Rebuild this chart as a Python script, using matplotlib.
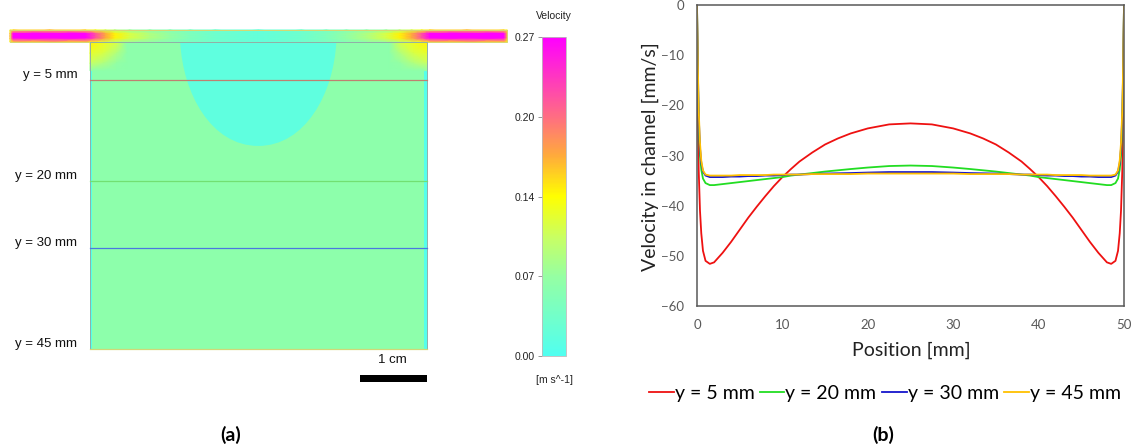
import numpy as np
import matplotlib
matplotlib.use("Agg")
import matplotlib.pyplot as plt
from matplotlib.colors import LinearSegmentedColormap, Normalize
from matplotlib.patches import Rectangle, PathPatch
from matplotlib.path import Path
import matplotlib.cm as cm

# ---------------- data : panel (b) ----------------
position = [0, 0.1, 0.2, 0.35, 0.5, 0.7, 1.0, 1.5, 2, 3, 4, 5, 6, 7, 8, 9, 10, 11, 12,
            13.5, 15, 16.5, 18, 20, 22.5, 25, 27.5, 30, 32, 33.5, 35, 36.5, 38, 39, 40, 41, 42,
            43, 44, 45, 46, 47, 48, 48.5, 49, 49.3, 49.5, 49.65, 49.8, 49.9, 50]
vel_y5 = [0, -22, -33, -41, -45.5, -49, -51, -51.6, -51.3, -49.4, -47.2, -44.8, -42.4,
          -40.2, -38.1, -36.1, -34.3, -32.7, -31.2, -29.4, -27.8, -26.6, -25.6, -24.6, -23.8,
          -23.6, -23.8, -24.6, -25.6, -26.6, -27.8, -29.4, -31.2, -32.7, -34.3, -36.1, -38.1,
          -40.2, -42.4, -44.8, -47.2, -49.4, -51.3, -51.6, -51, -49, -45.5, -41, -33, -22, 0]
vel_y20 = [0, -14, -24, -30, -32.8, -34.6, -35.5, -35.9, -35.9, -35.7, -35.5, -35.3, -35.1,
           -34.9, -34.7, -34.5, -34.3, -34.0, -33.8, -33.5, -33.2, -32.95, -32.7, -32.4, -32.1,
           -32.0, -32.1, -32.4, -32.7, -32.95, -33.2, -33.5, -33.8, -34.0, -34.3, -34.5, -34.7,
           -34.9, -35.1, -35.3, -35.5, -35.7, -35.9, -35.9, -35.5, -34.6, -32.8, -30, -24, -14, 0]
vel_y30 = [0, -13, -22, -28.5, -31.5, -33.2, -34.0, -34.3, -34.3, -34.3, -34.2, -34.2, -34.1,
           -34.1, -34.0, -34.0, -33.9, -33.8, -33.8, -33.7, -33.6, -33.55, -33.5, -33.4, -33.3,
           -33.3, -33.3, -33.4, -33.5, -33.55, -33.6, -33.7, -33.8, -33.8, -33.9, -34.0, -34.0,
           -34.1, -34.1, -34.2, -34.2, -34.3, -34.3, -34.3, -34.0, -33.2, -31.5, -28.5, -22, -13, 0]
vel_y45 = [0, -12, -21, -27.5, -31, -33, -33.8, -34.0, -34.0, -34.0, -34.0, -33.9, -33.9,
           -33.9, -33.9, -33.8, -33.8, -33.8, -33.8, -33.7, -33.7, -33.7, -33.7, -33.6, -33.6,
           -33.6, -33.6, -33.6, -33.7, -33.7, -33.7, -33.7, -33.8, -33.8, -33.8, -33.8, -33.9,
           -33.9, -33.9, -33.9, -34.0, -34.0, -34.0, -34.0, -33.8, -33.0, -31, -27.5, -21, -12, 0]
series_labels = ["y = 5 mm", "y = 20 mm", "y = 30 mm", "y = 45 mm"]
series_colors = ["#EE1111", "#22DD22", "#1515CC", "#FFC000"]
x_ticks = [0, 10, 20, 30, 40, 50]
y_ticks = [0, -10, -20, -30, -40, -50, -60]

# ---------------- data : panel (a) ----------------
cbar_levels = [0.0, 0.0675, 0.10, 0.135, 0.17, 0.2025, 0.27]
cbar_colors = ["#50FFF0", "#96FFA2", "#C8FF64", "#FFFF00", "#FFAA3C", "#FF6E82", "#FF00FF"]
cbar_ticks = [0.0, 0.0675, 0.135, 0.2025, 0.27]
cbar_ticklabels = ["0.00", "0.07", "0.14", "0.20", "0.27"]

chamber_width = 50.0
chamber_top = -0.65
chamber_bottom = 45.0
chamber_value = 0.06
wall_value = 0.005
channel_top = -2.44
# channel column positions (mm) and velocities on centre line / at walls
channel_x = [-11.9, -11.4, -6, -0.7, 0.8, 2.3, 3.7, 5.9, 8.9, 11.9, 14.9, 18.6, 25.0,
             31.4, 35.1, 38.1, 41.1, 44.0, 46.0, 47.8, 49.3, 50.5, 56, 61.5, 62.0]
channel_center = [0.16, 0.27, 0.27, 0.27, 0.22, 0.17, 0.14, 0.11, 0.085, 0.065, 0.045,
                  0.03, 0.02, 0.03, 0.045, 0.065, 0.085, 0.11, 0.14, 0.17, 0.22, 0.27,
                  0.27, 0.27, 0.16]
channel_wall = [0.13, 0.15, 0.16, 0.15, 0.13, 0.11, 0.09, 0.07, 0.06, 0.05, 0.04, 0.03,
                0.02, 0.03, 0.04, 0.05, 0.06, 0.07, 0.09, 0.11, 0.13, 0.15, 0.16, 0.15, 0.13]
# low-velocity bowl under the channel (left half outline, mirrored about x = 25)
bowl_left_x = [13.4, 13.8, 18.0, 25.0]
bowl_left_y = [-0.65, 7.0, 14.8, 14.8]
bowl_value = 0.015
# corner jets (distance from side wall, depth, value)
corner_dx = [0.0, 2.0, 4.0, 5.5]
corner_y = [-0.65, 1.0, 2.5, 3.6]
corner_vals = [[0.14, 0.125, 0.11, 0.06],
               [0.12, 0.11, 0.085, 0.06],
               [0.10, 0.085, 0.065, 0.06],
               [0.06, 0.06, 0.06, 0.06]]
line_levels = [5, 20, 30, 45]
line_labels = ["y = 5 mm", "y = 20 mm", "y = 30 mm", "y = 45 mm"]
line_colors = ["#C08070", "#72E072", "#4A78E0", "#D0D878"]

# ---------------- figure ----------------
W, H = 1135, 448
fig = plt.figure(figsize=(W / 100, H / 100), dpi=100)


def px_axes(x0, y0, x1, y1):
    return fig.add_axes([x0 / W, 1 - y1 / H, (x1 - x0) / W, (y1 - y0) / H])


# ---------- panel (b) ----------
bfont = "Lato"
axb = px_axes(697, 5, 1124, 306)
for vals, lab, col in zip([vel_y5, vel_y20, vel_y30, vel_y45], series_labels, series_colors):
    axb.plot(position, vals, color=col, lw=1.3, label=lab, solid_joinstyle="round")
axb.set_xlim(0, 50)
axb.set_ylim(-60, 0)
axb.set_xticks(x_ticks)
axb.set_yticks(y_ticks)
axb.tick_params(length=0, labelsize=9.5, labelcolor="#595959", pad=9.5)
for t in axb.get_xticklabels() + axb.get_yticklabels():
    t.set_family(bfont)
for s in axb.spines.values():
    s.set_color("#595959")
    s.set_linewidth(1.1)
fig.text(650 / W, 1 - 157 / H, "Velocity in channel [mm/s]", rotation=90, ha="center",
         va="center", fontsize=14, family=bfont, color="#222222")
fig.text(911 / W, 1 - 350 / H, "Position [mm]", ha="center", va="center", fontsize=14,
         family=bfont, color="#222222")
handles, labels = axb.get_legend_handles_labels()
fig.legend(handles, labels, loc="center", bbox_to_anchor=(885 / W, 1 - 393 / H), ncol=4,
           frameon=False, handlelength=1.25, handletextpad=0.05, columnspacing=0.3,
           prop={"family": bfont, "size": 14})
fig.text(883 / W, 1 - 435 / H, "(b)", ha="center", va="center", fontsize=14,
         family=bfont, weight="bold")
fig.text(231 / W, 1 - 435 / H, "(a)", ha="center", va="center", fontsize=14,
         family=bfont, weight="bold")

# ---------- panel (a) ----------
afont = "Liberation Sans"
cmap = LinearSegmentedColormap.from_list(
    "cfx", [(v / cbar_levels[-1], c) for v, c in zip(cbar_levels, cbar_colors)])
norm = Normalize(0, cbar_levels[-1])

axa = px_axes(0, 0, 530, 448)
axa.set_xlim(-90 / 6.73, 440 / 6.73)
axa.set_ylim((448 - 46.4) / 6.725, -46.4 / 6.725)
axa.axis("off")

# chamber background
axa.add_patch(Rectangle((0, chamber_top), chamber_width, chamber_bottom - chamber_top,
                        facecolor=cmap(norm(chamber_value)), edgecolor="none", zorder=1))
# side-wall boundary layer
for xw in (0, chamber_width - 0.35):
    axa.add_patch(Rectangle((xw, chamber_top), 0.35, chamber_bottom - chamber_top,
                            facecolor=cmap(norm(wall_value)), edgecolor="none", zorder=2))
# bowl
bx = bowl_left_x + [2 * 25 - v for v in bowl_left_x[::-1]][1:]
by = bowl_left_y + bowl_left_y[::-1][1:]
codes = [Path.MOVETO] + [Path.CURVE4] * (len(bx) - 1)
axa.add_patch(PathPatch(Path(np.column_stack([bx, by]), codes),
                        facecolor=cmap(norm(bowl_value)), edgecolor="none", zorder=3))
# corner jets
cv = np.array(corner_vals)
CXl, CY = np.meshgrid(corner_dx, corner_y)
axa.pcolormesh(CXl, CY, cv, shading="gouraud", cmap=cmap, norm=norm, zorder=4)
axa.pcolormesh(chamber_width - CXl, CY, cv, shading="gouraud", cmap=cmap, norm=norm, zorder=4)
# channel: wall rows at the edges, centre-line values across the core
h = chamber_top - channel_top
ch_y = [channel_top, channel_top + 0.3 * h, channel_top + 0.5 * h,
        channel_top + 0.7 * h, chamber_top]
CX, CHY = np.meshgrid(channel_x, ch_y)
CV = np.array([channel_wall, channel_center, channel_center, channel_center, channel_wall])
axa.pcolormesh(CX, CHY, CV, shading="gouraud", cmap=cmap, norm=norm, zorder=5)
axa.add_patch(Rectangle((channel_x[0], channel_top), channel_x[-1] - channel_x[0],
                        chamber_top - channel_top, facecolor="none", edgecolor="#D8D870",
                        lw=0.7, zorder=6))
# chamber outline
axa.add_patch(Rectangle((0, chamber_top), chamber_width, chamber_bottom - chamber_top,
                        facecolor="none", edgecolor="#8FB0A8", lw=0.7, zorder=6))
# sampling lines and labels
for lv, lab, col in zip(line_levels, line_labels, line_colors):
    axa.plot([0, chamber_width], [lv, lv], color=col, lw=0.9, zorder=7)
    axa.text(-1.9, lv - 0.8, lab, ha="right", va="center", fontsize=9.5, family=afont,
             color="#111111")
# scale bar
axa.add_patch(Rectangle((40.1, 48.9), 9.9, 1.0, facecolor="black", edgecolor="none"))
axa.text(45, 46.6, "1 cm", ha="center", va="center", fontsize=9.5, family=afont,
         color="#111111")

# colorbar
cax = px_axes(542, 37, 566, 356)
cb = fig.colorbar(cm.ScalarMappable(norm=norm, cmap=cmap), cax=cax)
cb.set_ticks(cbar_ticks)
cb.set_ticklabels(cbar_ticklabels)
cax.yaxis.set_ticks_position("left")
cax.tick_params(labelsize=7.5, length=3, width=0.6, color="#888888", labelcolor="#222222",
                pad=2)
for t in cax.get_yticklabels():
    t.set_family(afont)
cb.outline.set_edgecolor("#BBBBBB")
cb.outline.set_linewidth(0.6)
fig.text(554 / W, 1 - 16 / H, "Velocity", ha="center", va="center", fontsize=7.5,
         family=afont, color="#222222")
fig.text(554 / W, 1 - 380 / H, "[m s^-1]", ha="center", va="center", fontsize=7.5,
         family=afont, color="#222222")

fig.savefig("out.png", dpi=100)
